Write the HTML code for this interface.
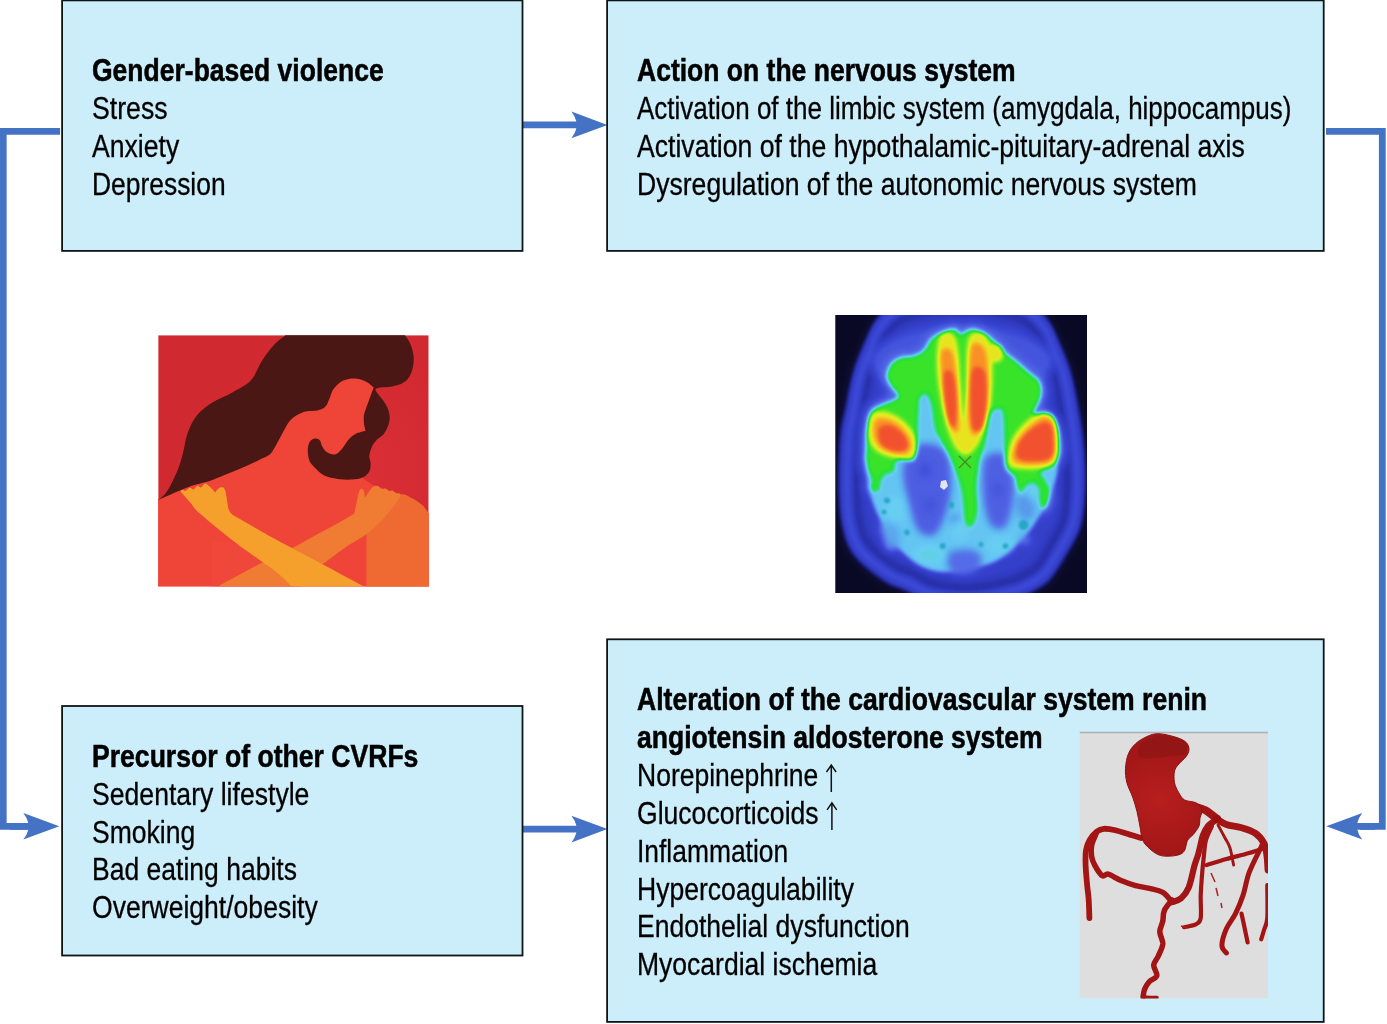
<!DOCTYPE html>
<html><head><meta charset="utf-8"><style>
html,body{margin:0;padding:0;background:#fff;width:1387px;height:1024px;overflow:hidden}
svg{display:block}
text{font-family:"Liberation Sans",sans-serif;font-size:32px;fill:#000}
</style></head><body>
<svg width="1387" height="1024" viewBox="0 0 1387 1024">
<defs>
<clipPath id="wclip"><rect x="158.2" y="335.2" width="270.5" height="251.2"/></clipPath>
<radialGradient id="wbg" cx="340" cy="470" r="190" gradientUnits="userSpaceOnUse"><stop offset="0" stop-color="#dc3137"/><stop offset="0.5" stop-color="#d42a32"/><stop offset="1" stop-color="#d02930"/></radialGradient>
<clipPath id="bclip"><rect x="835.3" y="315" width="251.7" height="278"/></clipPath>
<filter id="jet" filterUnits="userSpaceOnUse" x="820" y="300" width="285" height="310" color-interpolation-filters="sRGB"><feGaussianBlur stdDeviation="2.3"/><feComponentTransfer><feFuncR type="table" tableValues="0.039 0.044 0.048 0.052 0.065 0.092 0.118 0.153 0.188 0.200 0.213 0.225 0.255 0.289 0.324 0.340 0.345 0.350 0.362 0.385 0.408 0.326 0.244 0.194 0.165 0.169 0.309 0.449 0.588 0.722 0.856 0.923 0.945 0.967 0.977 0.970 0.963 0.956 0.951 0.946 0.941"/><feFuncG type="table" tableValues="0.039 0.044 0.048 0.052 0.069 0.105 0.141 0.184 0.227 0.245 0.262 0.279 0.316 0.357 0.399 0.463 0.541 0.620 0.690 0.749 0.808 0.834 0.860 0.875 0.881 0.889 0.901 0.913 0.925 0.932 0.939 0.882 0.784 0.686 0.596 0.518 0.439 0.371 0.341 0.312 0.282"/><feFuncB type="table" tableValues="0.149 0.164 0.180 0.195 0.261 0.405 0.549 0.651 0.753 0.780 0.807 0.834 0.857 0.879 0.901 0.914 0.922 0.929 0.937 0.947 0.957 0.754 0.552 0.396 0.272 0.171 0.161 0.151 0.141 0.131 0.122 0.122 0.129 0.137 0.145 0.155 0.165 0.174 0.178 0.183 0.188"/></feComponentTransfer></filter>
<filter id="tb" x="-50%" y="-50%" width="200%" height="200%"><feGaussianBlur stdDeviation="1.2"/></filter>
<filter id="fb3" filterUnits="userSpaceOnUse" x="820" y="300" width="285" height="310"><feGaussianBlur stdDeviation="3"/></filter>
<clipPath id="hclip"><rect x="1079.5" y="731.5" width="188.5" height="267"/></clipPath>
<filter id="hbl" x="-10%" y="-10%" width="120%" height="120%"><feGaussianBlur stdDeviation="0.6"/></filter>
<radialGradient id="aog" cx="1160" cy="800" r="60" gradientUnits="userSpaceOnUse"><stop offset="0" stop-color="#b81e1e"/><stop offset="1" stop-color="#a01616"/></radialGradient>
</defs>
<rect x="0" y="0" width="1387" height="1024" fill="#fff"/>
<path d="M60,131.3 L3.3,131.3 L3.3,826.4 L30,826.4" fill="none" stroke="#4472c4" stroke-width="6.7"/>
<path d="M1326,131.3 L1382.3,131.3 L1382.3,826.4 L1360,826.4" fill="none" stroke="#4472c4" stroke-width="6.8"/>
<path d="M10,822.9499999999999 L28.299999999999997,822.9499999999999 Q27.099999999999994,817.8 23.299999999999997,813.0 L59.3,826.3 L23.299999999999997,839.5999999999999 Q27.099999999999994,834.8 28.299999999999997,829.65 L10,829.65 Z" fill="#4472c4"/>
<path d="M1375,822.9499999999999 L1357.3,822.9499999999999 Q1358.5,817.8 1362.3,813.0 L1326.3,826.3 L1362.3,839.5999999999999 Q1358.5,834.8 1357.3,829.65 L1375,829.65 Z" fill="#4472c4"/>
<path d="M522,121.55000000000001 L576.4,121.55000000000001 Q575.1999999999999,116.4 571.4,111.60000000000001 L607.4,124.9 L571.4,138.20000000000002 Q575.1999999999999,133.4 576.4,128.25 L522,128.25 Z" fill="#4472c4"/>
<path d="M522,825.75 L576.4,825.75 Q575.1999999999999,820.6 571.4,815.8000000000001 L607.4,829.1 L571.4,842.4 Q575.1999999999999,837.6 576.4,832.45 L522,832.45 Z" fill="#4472c4"/>
<rect x="62.1" y="0.4" width="460.4" height="250.5" fill="#cbeefa" stroke="#0f1416" stroke-width="1.8"/>
<rect x="607.1" y="0.4" width="716.6" height="250.5" fill="#cbeefa" stroke="#0f1416" stroke-width="1.8"/>
<rect x="62.1" y="706" width="460.4" height="249.5" fill="#cbeefa" stroke="#0f1416" stroke-width="1.8"/>
<rect x="607.1" y="639.3" width="716.6" height="382.6" fill="#cbeefa" stroke="#0f1416" stroke-width="1.8"/>
<g opacity="0.995">
<text x="92" y="81.1" font-weight="bold" stroke="#000" stroke-width="0.55" textLength="291.7" lengthAdjust="spacingAndGlyphs">Gender-based violence</text>
<text x="92" y="118.9" font-weight="normal" stroke="#000" stroke-width="0.3" textLength="75.6" lengthAdjust="spacingAndGlyphs">Stress</text>
<text x="92" y="156.7" font-weight="normal" stroke="#000" stroke-width="0.3" textLength="87.2" lengthAdjust="spacingAndGlyphs">Anxiety</text>
<text x="92" y="194.5" font-weight="normal" stroke="#000" stroke-width="0.3" textLength="133.6" lengthAdjust="spacingAndGlyphs">Depression</text>
<text x="637" y="81.1" font-weight="bold" stroke="#000" stroke-width="0.55" textLength="378.6" lengthAdjust="spacingAndGlyphs">Action on the nervous system</text>
<text x="637" y="118.9" font-weight="normal" stroke="#000" stroke-width="0.3" textLength="654.4" lengthAdjust="spacingAndGlyphs">Activation of the limbic system (amygdala, hippocampus)</text>
<text x="637" y="156.7" font-weight="normal" stroke="#000" stroke-width="0.3" textLength="607.8" lengthAdjust="spacingAndGlyphs">Activation of the hypothalamic-pituitary-adrenal axis</text>
<text x="637" y="194.5" font-weight="normal" stroke="#000" stroke-width="0.3" textLength="559.8" lengthAdjust="spacingAndGlyphs">Dysregulation of the autonomic nervous system</text>
<text x="92" y="767.0" font-weight="bold" stroke="#000" stroke-width="0.55" textLength="326.4" lengthAdjust="spacingAndGlyphs">Precursor of other CVRFs</text>
<text x="92" y="804.8" font-weight="normal" stroke="#000" stroke-width="0.3" textLength="217.4" lengthAdjust="spacingAndGlyphs">Sedentary lifestyle</text>
<text x="92" y="842.6" font-weight="normal" stroke="#000" stroke-width="0.3" textLength="103.2" lengthAdjust="spacingAndGlyphs">Smoking</text>
<text x="92" y="880.4" font-weight="normal" stroke="#000" stroke-width="0.3" textLength="204.9" lengthAdjust="spacingAndGlyphs">Bad eating habits</text>
<text x="92" y="918.2" font-weight="normal" stroke="#000" stroke-width="0.3" textLength="225.7" lengthAdjust="spacingAndGlyphs">Overweight/obesity</text>
<text x="637" y="710.3" font-weight="bold" stroke="#000" stroke-width="0.55" textLength="570.1" lengthAdjust="spacingAndGlyphs">Alteration of the cardiovascular system renin</text>
<text x="637" y="748.14" font-weight="bold" stroke="#000" stroke-width="0.55" textLength="405.5" lengthAdjust="spacingAndGlyphs">angiotensin aldosterone system</text>
<text x="637" y="785.98" font-weight="normal" stroke="#000" stroke-width="0.3" textLength="181.3" lengthAdjust="spacingAndGlyphs">Norepinephrine</text>
<text x="637" y="823.82" font-weight="normal" stroke="#000" stroke-width="0.3" textLength="181.6" lengthAdjust="spacingAndGlyphs">Glucocorticoids</text>
<text x="637" y="861.66" font-weight="normal" stroke="#000" stroke-width="0.3" textLength="151.2" lengthAdjust="spacingAndGlyphs">Inflammation</text>
<text x="637" y="899.5" font-weight="normal" stroke="#000" stroke-width="0.3" textLength="217.0" lengthAdjust="spacingAndGlyphs">Hypercoagulability</text>
<text x="637" y="937.34" font-weight="normal" stroke="#000" stroke-width="0.3" textLength="272.8" lengthAdjust="spacingAndGlyphs">Endothelial dysfunction</text>
<text x="637" y="975.18" font-weight="normal" stroke="#000" stroke-width="0.3" textLength="240.2" lengthAdjust="spacingAndGlyphs">Myocardial ischemia</text>
<path d="M831.3,792 L831.3,765.8 M826.5,772 L831.3,765 L836.0999999999999,772" fill="none" stroke="#111" stroke-width="1.5"/>
<path d="M831.9,830 L831.9,803.5999999999999 M827.1,809.8 L831.9,802.8 L836.6999999999999,809.8" fill="none" stroke="#111" stroke-width="1.5"/>
</g>
<g clip-path="url(#wclip)">
<rect x="158.2" y="335.2" width="270.5" height="251.2" fill="url(#wbg)"/>
<path d="M150.0,503.0 L166.0,496.0 L230.0,450.0 L300.0,400.0 L340.0,368.0 L372.0,376.0 L376.0,386.0 L366.0,420.0 L364.0,455.0 L363.0,478.5 L372.0,484.4 L385.7,489.2 L399.0,494.6 L413.0,498.7 L422.6,505.6 L430.0,515.0 L432.0,590.0 L150.0,590.0 Z" fill="#ef4538"/>
<path d="M212.0,540.0 L240.0,545.0 L300.0,560.0 L300.0,590.0 L212.0,590.0 Z" fill="#ef4a3a" opacity="0.6"/>
<path d="M366.5,590.0 C366.5,580.7 366.5,543.6 366.5,534.3 C370.6,530.2 386.9,513.8 391.0,509.7 C392.6,507.2 397.0,496.4 400.7,494.6 C404.4,492.8 409.4,496.9 413.0,498.7 C416.6,500.5 419.9,503.1 422.6,505.6 C425.3,508.2 427.9,512.6 429.0,514.0 C429.5,526.7 431.5,577.3 432.0,590.0 C421.1,590.0 377.4,590.0 366.5,590.0 Z" fill="#ef6a33"/>
<path d="M377.5,485.8 C378.9,486.1 380.2,488.6 381.6,489.0 C383.0,489.4 384.5,488.2 385.7,488.5 C386.9,488.8 387.9,490.7 389.0,491.0 C390.1,491.3 391.3,490.2 392.5,490.5 C393.7,490.8 394.9,492.5 396.0,493.0 C397.1,493.5 398.5,492.9 399.3,493.3 C400.1,493.7 400.7,495.1 401.0,495.5 C399.4,497.9 394.8,505.1 391.1,509.7 C387.4,514.3 382.9,519.2 378.8,523.3 C374.7,527.4 372.2,530.2 366.5,534.3 C360.8,538.4 351.8,543.1 344.7,547.9 C337.6,552.7 327.6,560.5 324.2,563.0 C318.8,566.8 296.9,582.2 291.5,586.0 C279.4,586.0 231.1,586.0 219.0,586.0 C225.7,582.4 252.2,567.9 258.9,564.3 C264.1,561.8 280.3,554.3 290.0,549.3 C299.7,544.3 309.3,538.6 317.3,534.3 C325.3,530.0 331.7,526.7 337.8,523.3 C343.9,519.9 351.5,515.4 354.2,513.8 C354.6,512.0 355.7,506.6 356.5,503.0 C357.3,499.4 358.2,494.4 359.0,492.0 C359.8,489.6 360.7,489.0 361.5,488.8 C362.3,488.6 363.2,489.6 363.8,491.0 C364.4,492.4 364.8,496.4 365.0,497.5 C365.7,496.5 367.7,493.2 369.0,491.5 C370.3,489.8 371.6,487.9 373.0,487.0 C374.4,486.1 376.1,485.5 377.5,485.8 Z" fill="#f07b32"/>
<path d="M180.5,491.5 C180.8,491.2 181.5,489.6 182.3,489.5 C183.1,489.4 184.2,491.3 185.5,491.0 C186.8,490.7 188.6,488.1 189.9,487.8 C191.2,487.6 192.2,489.8 193.5,489.5 C194.8,489.2 196.2,486.1 197.4,485.8 C198.7,485.5 199.8,487.9 201.0,487.5 C202.2,487.1 203.6,483.8 204.9,483.5 C206.2,483.2 207.7,484.9 209.0,486.0 C210.3,487.1 211.9,488.9 213.0,490.0 C214.1,491.1 214.9,492.2 215.3,492.6 C215.8,491.9 217.3,489.4 218.5,488.5 C219.7,487.6 221.5,487.1 222.6,487.3 C223.7,487.6 224.3,488.4 225.0,490.0 C225.7,491.6 225.9,493.7 226.5,497.0 C227.1,500.3 227.7,506.7 228.8,509.7 C229.9,512.7 232.2,514.2 232.9,515.1 C239.3,518.8 264.8,533.4 271.2,537.0 C286.7,545.2 348.5,578.2 364.0,586.5 C351.9,586.5 303.8,586.5 291.7,586.5 C289.0,584.0 284.4,578.3 275.3,571.2 C266.2,564.1 249.5,553.4 237.0,543.8 C224.5,534.2 207.8,520.6 200.1,513.8 C192.3,507.0 193.8,506.5 190.5,502.8 C187.2,499.1 182.2,493.4 180.5,491.5 Z" fill="#f5a02c"/>
<path d="M288.3,333.0 C285.9,335.0 278.3,340.3 273.9,345.0 C269.4,349.7 265.5,355.5 261.6,361.4 C257.7,367.3 255.7,375.4 250.7,380.6 C245.7,385.9 237.9,389.3 231.5,392.9 C225.1,396.5 218.1,398.8 212.4,402.4 C206.7,406.0 201.5,409.7 197.4,414.7 C193.3,419.7 190.2,426.1 187.8,432.5 C185.4,438.9 184.6,447.0 183.0,453.0 C181.4,459.0 180.4,463.1 178.2,468.7 C176.0,474.3 172.5,481.8 170.0,486.4 C167.5,490.9 165.5,493.6 163.2,496.0 C160.9,498.4 157.2,500.2 156.0,501.0 C157.7,500.2 161.5,498.4 165.9,496.5 C170.3,494.6 177.3,491.5 182.3,489.5 C187.3,487.5 191.4,486.0 196.0,484.6 C200.6,483.2 205.1,482.5 209.7,481.0 C214.2,479.5 218.8,477.3 223.3,475.5 C227.9,473.7 232.4,471.9 237.0,470.0 C241.6,468.1 246.5,465.9 250.7,464.0 C254.9,462.1 258.6,460.3 262.0,458.5 C265.4,456.7 268.1,456.6 271.2,453.0 C274.3,449.4 277.5,442.1 280.7,436.6 C283.9,431.1 286.5,424.3 290.3,420.2 C294.1,416.1 299.2,413.6 303.7,412.0 C308.2,410.4 313.7,411.5 317.3,410.6 C320.9,409.7 323.4,408.6 325.5,406.5 C327.6,404.4 328.2,401.2 329.6,398.3 C331.0,395.4 331.4,391.8 333.7,388.8 C336.0,385.9 339.6,382.3 343.3,380.6 C347.0,378.9 351.7,378.3 355.6,378.5 C359.5,378.7 363.5,380.5 366.5,382.0 C369.5,383.5 372.5,386.6 373.7,387.5 C372.2,391.6 366.4,407.0 364.8,412.1 C363.2,417.2 363.9,416.2 363.8,418.3 C363.7,420.4 363.8,422.3 364.1,424.4 C364.4,426.5 365.3,429.7 365.5,430.8 C363.9,431.3 358.4,432.5 355.6,433.9 C352.8,435.3 351.1,436.8 348.8,439.3 C346.5,441.8 344.2,446.4 341.9,448.9 C339.6,451.4 337.6,453.8 335.1,454.4 C332.6,455.0 329.1,453.7 326.9,452.3 C324.7,450.9 323.2,448.1 322.1,446.2 C321.0,444.3 321.1,442.0 320.1,440.7 C319.1,439.4 317.6,438.5 316.0,438.5 C314.4,438.5 311.9,439.0 310.5,440.7 C309.1,442.4 308.0,445.7 307.8,448.9 C307.6,452.1 308.2,456.9 309.1,459.8 C310.0,462.7 310.7,463.4 313.2,466.0 C315.7,468.6 320.1,473.4 324.2,475.5 C328.3,477.6 333.2,478.2 337.8,478.9 C342.4,479.6 347.4,479.8 351.5,479.6 C355.6,479.4 359.4,479.0 362.4,477.6 C365.4,476.2 367.9,473.8 369.3,471.4 C370.7,469.0 370.6,465.8 370.6,463.2 C370.6,460.6 369.0,458.6 369.3,455.7 C369.6,452.8 371.0,448.7 372.3,446.0 C373.6,443.3 375.3,441.4 377.1,439.5 C378.9,437.6 381.5,436.6 383.2,434.7 C384.9,432.8 386.3,430.1 387.3,427.8 C388.3,425.5 389.0,423.3 389.4,421.0 C389.8,418.7 389.8,416.5 389.4,414.2 C389.0,411.9 388.3,409.6 387.3,407.3 C386.3,405.0 384.8,402.8 383.2,400.5 C381.6,398.2 379.1,395.5 377.8,393.7 C376.5,391.9 375.1,390.5 375.5,389.5 C375.9,388.5 377.9,387.9 380.5,387.5 C383.1,387.1 387.4,387.4 390.8,386.8 C394.2,386.2 399.3,384.6 401.0,384.1 C402.1,383.2 405.9,381.4 407.8,379.0 C409.7,376.6 411.3,373.2 412.3,369.6 C413.3,366.0 414.0,361.6 413.7,357.3 C413.4,353.0 412.0,347.8 410.3,343.7 C408.6,339.6 404.5,334.8 403.4,333.0 C384.2,333.0 307.5,333.0 288.3,333.0 Z" fill="#4a1714"/>
</g>
<g clip-path="url(#bclip)">
<g filter="url(#jet)">
<rect x="820" y="300" width="285" height="310" fill="rgb(0,0,0)"/>
<path d="M1048.0,316.7 C1054.4,324.3 1057.6,334.4 1061.7,343.5 C1065.8,352.6 1069.4,360.7 1072.4,371.3 C1075.5,381.8 1078.2,397.0 1080.2,406.8 C1082.1,416.7 1082.9,421.6 1084.1,430.5 C1085.2,439.3 1086.5,449.5 1087.0,460.0 C1087.5,470.5 1087.9,482.1 1087.1,493.5 C1086.3,504.8 1085.4,517.8 1082.3,528.0 C1079.2,538.2 1073.6,545.9 1068.5,554.7 C1063.4,563.4 1056.7,574.5 1051.8,580.4 C1046.9,586.3 1044.7,587.0 1039.0,590.3 C1033.2,593.6 1028.0,597.2 1017.3,600.1 C1006.6,603.1 989.3,607.4 974.8,608.0 C960.4,608.7 942.1,606.7 930.4,604.0 C918.8,601.4 912.5,595.6 904.8,592.2 C897.1,588.7 892.8,589.2 884.1,583.3 C875.4,577.4 859.7,565.9 852.5,556.7 C845.3,547.5 843.3,538.6 840.7,528.0 C838.1,517.5 837.6,504.8 836.9,493.5 C836.3,482.1 836.7,470.5 837.0,460.0 C837.3,449.5 837.8,439.3 838.9,430.5 C840.1,421.6 841.7,416.7 843.8,406.8 C845.9,397.0 848.5,381.8 851.6,371.3 C854.6,360.7 858.2,352.6 862.3,343.5 C866.4,334.4 869.6,324.3 876.0,316.7 C882.4,309.1 886.4,302.7 900.7,297.9 C915.0,293.1 941.6,288.0 962.0,288.0 C982.4,288.0 1009.0,293.1 1023.3,297.9 C1037.6,302.7 1041.6,309.1 1048.0,316.7 Z" fill="rgb(51,51,51)" filter="url(#fb3)"/>
<path d="M1042.3,326.1 C1048.2,333.4 1051.0,343.2 1054.5,351.9 C1058.1,360.5 1061.3,368.2 1063.9,378.1 C1066.5,388.1 1068.6,402.2 1070.1,411.3 C1071.7,420.5 1072.4,424.9 1073.4,433.1 C1074.3,441.2 1075.5,450.4 1076.0,460.0 C1076.5,469.6 1077.0,480.2 1076.4,490.6 C1075.9,501.1 1075.4,513.1 1072.7,522.6 C1070.0,532.1 1064.9,539.2 1060.3,547.4 C1055.7,555.5 1049.7,566.0 1045.2,571.6 C1040.7,577.2 1038.7,577.8 1033.4,580.8 C1028.1,583.9 1023.1,587.2 1013.2,589.9 C1003.3,592.6 987.3,596.5 973.9,597.0 C960.5,597.6 943.6,595.8 932.8,593.3 C922.0,590.8 916.3,585.3 909.2,582.1 C902.0,578.9 898.0,579.5 889.9,574.0 C881.9,568.6 867.3,558.0 860.7,549.4 C854.1,540.8 852.5,532.4 850.3,522.6 C848.1,512.8 847.9,501.1 847.6,490.6 C847.2,480.2 847.7,469.6 848.0,460.0 C848.3,450.4 848.7,441.1 849.6,433.0 C850.6,424.9 852.1,420.5 853.9,411.3 C855.6,402.2 857.5,388.1 860.1,378.1 C862.7,368.2 865.9,360.5 869.5,351.9 C873.0,343.2 875.8,333.4 881.7,326.1 C887.5,318.9 891.2,312.7 904.6,308.2 C918.0,303.6 942.9,299.0 962.0,299.0 C981.1,299.0 1006.0,303.6 1019.4,308.2 C1032.8,312.7 1036.5,318.9 1042.3,326.1 Z" fill="none" stroke="rgb(84,84,84)" stroke-width="7" filter="url(#fb3)"/>
<path d="M1040.3,329.6 C1045.9,336.7 1048.5,346.4 1051.9,354.9 C1055.4,363.4 1058.3,371.0 1060.7,380.6 C1063.2,390.3 1065.0,404.1 1066.5,413.0 C1068.0,421.9 1068.6,426.2 1069.5,434.0 C1070.4,441.8 1071.5,450.7 1072.0,460.0 C1072.5,469.3 1073.0,479.5 1072.6,489.6 C1072.1,499.7 1071.8,511.4 1069.2,520.6 C1066.7,529.8 1061.7,536.7 1057.3,544.7 C1052.9,552.7 1047.2,562.9 1042.8,568.4 C1038.5,573.8 1036.5,574.4 1031.4,577.4 C1026.2,580.3 1021.4,583.6 1011.8,586.2 C1002.1,588.8 986.6,592.5 973.5,593.1 C960.5,593.6 944.1,591.8 933.6,589.4 C923.2,587.0 917.7,581.5 910.8,578.4 C903.8,575.3 899.9,575.9 892.1,570.6 C884.2,565.4 870.1,555.1 863.7,546.7 C857.4,538.4 855.9,530.2 853.8,520.7 C851.8,511.2 851.7,499.7 851.4,489.6 C851.1,479.5 851.6,469.3 852.0,460.0 C852.4,450.7 852.6,441.8 853.5,434.0 C854.4,426.1 855.9,421.9 857.5,413.0 C859.1,404.1 860.8,390.3 863.3,380.6 C865.7,371.0 868.6,363.4 872.1,354.9 C875.5,346.4 878.1,336.7 883.7,329.6 C889.4,322.4 893.0,316.3 906.0,311.9 C919.1,307.5 943.3,303.0 962.0,303.0 C980.7,303.0 1004.9,307.5 1018.0,311.9 C1031.0,316.3 1034.6,322.4 1040.3,329.6 Z" fill="rgb(46,46,46)"/>
<path d="M1033.6,340.7 C1038.6,347.5 1040.7,356.8 1043.5,364.8 C1046.3,372.8 1048.8,379.9 1050.6,388.8 C1052.5,397.7 1053.6,410.3 1054.6,418.3 C1055.7,426.4 1056.1,430.1 1056.8,437.1 C1057.6,444.0 1058.5,451.8 1059.0,460.0 C1059.5,468.2 1060.2,477.2 1060.0,486.2 C1059.8,495.3 1060.0,505.9 1057.9,514.2 C1055.8,522.5 1051.4,528.8 1047.6,536.1 C1043.8,543.4 1038.9,552.9 1035.1,558.0 C1031.3,563.0 1029.4,563.5 1024.7,566.2 C1020.1,568.9 1015.7,571.8 1007.0,574.1 C998.3,576.4 984.2,579.7 972.4,580.1 C960.6,580.5 945.8,579.0 936.4,576.7 C927.0,574.4 922.1,569.3 915.9,566.5 C909.7,563.6 906.1,564.4 899.0,559.6 C892.0,554.9 879.1,545.7 873.5,538.1 C867.8,530.6 866.7,523.0 865.2,514.3 C863.6,505.7 864.0,495.3 864.0,486.2 C864.0,477.2 864.6,468.2 865.0,460.0 C865.4,451.8 865.4,443.9 866.2,437.0 C866.9,430.1 868.2,426.3 869.4,418.3 C870.6,410.3 871.5,397.7 873.4,388.8 C875.2,379.9 877.7,372.8 880.5,364.8 C883.3,356.8 885.4,347.5 890.4,340.7 C895.5,333.9 898.7,328.2 910.6,324.1 C922.5,319.9 944.9,316.0 962.0,316.0 C979.1,316.0 1001.5,319.9 1013.4,324.1 C1025.3,328.2 1028.5,333.9 1033.6,340.7 Z" fill="rgb(61,61,61)" filter="url(#fb3)"/>
<ellipse cx="962" cy="362" rx="92" ry="36" fill="rgb(79,79,79)" filter="url(#fb3)"/>
<path d="M886.6,376.5 C886.6,372.9 888.4,367.4 890.7,364.2 C893.0,361.0 896.6,358.8 900.2,357.4 C903.8,356.0 908.6,357.1 912.5,356.0 C916.4,354.9 920.3,353.5 923.5,350.5 C926.7,347.5 928.1,341.4 931.7,338.2 C935.3,334.9 941.1,332.5 945.0,331.0 C948.9,329.5 952.3,328.5 955.0,329.0 C957.7,329.5 958.8,333.8 961.0,334.0 C963.2,334.2 965.5,330.8 968.0,330.0 C970.5,329.2 972.6,328.6 976.0,329.5 C979.4,330.4 984.4,332.7 988.3,335.5 C992.2,338.3 996.3,343.4 999.3,346.4 C1002.3,349.4 1002.9,350.6 1006.1,353.3 C1009.3,356.0 1014.5,359.6 1018.4,362.8 C1022.3,366.0 1025.9,369.4 1029.3,372.4 C1032.7,375.4 1036.9,377.4 1038.9,380.6 C1041.0,383.8 1041.6,387.9 1041.6,391.5 C1041.6,395.1 1040.2,398.9 1038.9,402.5 C1037.6,406.1 1033.3,410.9 1034.0,413.0 C1034.7,415.1 1040.1,413.6 1043.0,414.8 C1045.9,416.0 1048.9,417.5 1051.2,420.2 C1053.5,422.9 1055.3,427.1 1056.7,431.2 C1058.1,435.3 1059.2,440.3 1059.4,444.8 C1059.6,449.3 1059.6,454.3 1058.0,458.0 C1056.4,461.7 1053.0,464.7 1050.0,467.0 C1047.0,469.3 1041.0,469.8 1040.0,472.0 C1039.0,474.2 1042.5,477.0 1044.0,480.0 C1045.5,483.0 1048.3,486.2 1049.0,490.0 C1049.7,493.8 1049.0,499.8 1048.0,503.0 C1047.0,506.2 1044.3,509.5 1043.0,509.0 C1041.7,508.5 1040.5,503.5 1040.0,500.0 C1039.5,496.5 1041.3,491.0 1040.0,488.0 C1038.7,485.0 1034.5,482.3 1032.0,482.0 C1029.5,481.7 1026.8,484.2 1025.0,486.0 C1023.2,487.8 1022.3,493.0 1021.0,493.0 C1019.7,493.0 1018.0,488.7 1017.0,486.0 C1016.0,483.3 1016.7,479.7 1015.0,477.0 C1013.3,474.3 1008.7,472.8 1007.0,470.0 C1005.3,467.2 1005.0,465.0 1004.7,460.0 C1004.4,455.0 1005.3,448.0 1005.0,440.0 C1004.7,432.0 1004.5,417.2 1003.0,412.0 C1001.5,406.8 998.2,408.7 996.0,409.0 C993.8,409.3 991.5,410.5 990.0,414.0 C988.5,417.5 988.0,424.7 987.0,430.0 C986.0,435.3 985.2,441.3 984.0,446.0 C982.8,450.7 981.0,454.0 980.0,458.0 C979.0,462.0 978.7,465.2 978.0,470.0 C977.3,474.8 976.2,481.2 976.0,487.0 C975.8,492.8 977.0,500.3 977.0,505.0 C977.0,509.7 976.7,511.8 976.0,515.0 C975.3,518.2 974.3,522.2 973.0,524.0 C971.7,525.8 969.3,527.0 968.0,526.0 C966.7,525.0 965.7,521.5 965.0,518.0 C964.3,514.5 964.5,509.7 964.0,505.0 C963.5,500.3 963.3,495.5 962.0,490.0 C960.7,484.5 958.0,477.3 956.0,472.0 C954.0,466.7 952.0,462.3 950.0,458.0 C948.0,453.7 946.3,450.7 944.0,446.0 C941.7,441.3 938.0,436.8 936.0,430.0 C934.0,423.2 933.5,410.8 932.0,405.0 C930.5,399.2 928.8,396.3 927.0,395.0 C925.2,393.7 922.5,394.4 921.0,397.0 C919.5,399.6 918.7,403.5 918.0,410.7 C917.3,417.9 917.3,432.6 917.0,440.0 C916.7,447.4 916.8,451.5 916.0,455.0 C915.2,458.5 914.5,460.3 912.0,461.0 C909.5,461.7 903.8,458.8 901.0,459.0 C898.2,459.2 896.3,460.0 895.0,462.0 C893.7,464.0 894.7,469.0 893.0,471.0 C891.3,473.0 887.2,472.3 885.0,474.0 C882.8,475.7 881.0,478.5 880.0,481.0 C879.0,483.5 880.0,487.3 879.0,489.0 C878.0,490.7 875.5,491.6 874.0,491.3 C872.5,491.0 870.2,488.7 870.0,487.0 C869.8,485.3 873.2,483.5 873.0,481.0 C872.8,478.5 870.2,475.2 869.0,472.0 C867.8,468.8 866.5,467.7 866.0,462.0 C865.5,456.3 865.9,444.3 866.1,438.0 C866.3,431.7 866.5,428.9 867.4,424.3 C868.3,419.8 868.8,414.1 871.5,410.7 C874.2,407.3 879.4,406.1 883.8,403.8 C888.2,401.5 896.9,399.9 898.0,397.0 C899.1,394.1 892.6,389.5 890.7,386.1 C888.8,382.7 886.6,380.1 886.6,376.5 Z" fill="none" stroke="rgb(92,92,92)" stroke-width="12" filter="url(#fb3)"/>
<path d="M868.0,452.0 C873.7,448.5 884.7,447.0 900.0,445.0 C915.3,443.0 940.0,440.0 960.0,440.0 C980.0,440.0 1004.7,443.0 1020.0,445.0 C1035.3,447.0 1045.7,447.8 1052.0,452.0 C1058.3,456.2 1058.2,463.0 1058.0,470.0 C1057.8,477.0 1053.5,487.3 1051.0,494.0 C1048.5,500.7 1046.0,504.5 1043.0,510.0 C1040.0,515.5 1037.5,521.0 1033.0,527.0 C1028.5,533.0 1022.3,540.2 1016.0,546.0 C1009.7,551.8 1004.0,557.8 995.0,562.0 C986.0,566.2 971.5,569.3 962.0,571.0 C952.5,572.7 945.3,573.0 938.0,572.0 C930.7,571.0 924.2,568.5 918.0,565.0 C911.8,561.5 906.0,556.0 901.0,551.0 C896.0,546.0 892.0,541.2 888.0,535.0 C884.0,528.8 880.0,520.8 877.0,514.0 C874.0,507.2 871.8,502.0 870.0,494.0 C868.2,486.0 866.3,473.0 866.0,466.0 C865.7,459.0 862.3,455.5 868.0,452.0 Z" fill="rgb(124,124,124)"/>
<path d="M915.0,458.0 L917.0,410.0 L923.0,396.0 L929.0,395.0 L933.0,405.0 L937.0,430.0 L943.0,458.0 Z" fill="rgb(124,124,124)"/>
<path d="M983.0,458.0 L986.0,430.0 L990.0,413.0 L996.0,408.0 L1003.0,411.0 L1006.0,440.0 L1006.0,458.0 Z" fill="rgb(124,124,124)"/>
<path d="M912.0,448.0 C916.8,443.7 926.0,442.7 932.0,444.0 C938.0,445.3 944.8,448.3 948.0,456.0 C951.2,463.7 951.7,479.7 951.0,490.0 C950.3,500.3 946.8,510.5 944.0,518.0 C941.2,525.5 938.3,533.0 934.0,535.0 C929.7,537.0 922.3,535.8 918.0,530.0 C913.7,524.2 910.5,510.0 908.0,500.0 C905.5,490.0 902.3,478.7 903.0,470.0 C903.7,461.3 907.2,452.3 912.0,448.0 Z" fill="rgb(85,85,85)" filter="url(#fb3)"/>
<path d="M985.0,458.0 C988.8,451.3 1001.2,451.3 1006.0,455.0 C1010.8,458.7 1013.0,471.2 1014.0,480.0 C1015.0,488.8 1013.7,500.0 1012.0,508.0 C1010.3,516.0 1007.7,525.3 1004.0,528.0 C1000.3,530.7 993.5,529.5 990.0,524.0 C986.5,518.5 983.8,506.0 983.0,495.0 C982.2,484.0 981.2,464.7 985.0,458.0 Z" fill="rgb(87,87,87)" filter="url(#fb3)"/>
<path d="M948.0,553.0 C951.7,549.2 968.3,548.5 974.0,550.0 C979.7,551.5 982.3,558.0 982.0,562.0 C981.7,566.0 977.0,572.2 972.0,574.0 C967.0,575.8 956.0,576.5 952.0,573.0 C948.0,569.5 944.3,556.8 948.0,553.0 Z" fill="rgb(92,92,92)" filter="url(#fb3)"/>
<path d="M1015.0,500.0 C1016.3,495.8 1026.7,492.5 1030.0,495.0 C1033.3,497.5 1036.3,510.8 1035.0,515.0 C1033.7,519.2 1025.3,522.5 1022.0,520.0 C1018.7,517.5 1013.7,504.2 1015.0,500.0 Z" fill="rgb(107,107,107)" filter="url(#fb3)"/>
<path d="M880.0,525.0 C881.2,520.3 891.7,516.7 895.0,520.0 C898.3,523.3 901.2,540.3 900.0,545.0 C898.8,549.7 891.3,551.3 888.0,548.0 C884.7,544.7 878.8,529.7 880.0,525.0 Z" fill="rgb(112,112,112)" filter="url(#fb3)"/>
<ellipse cx="925" cy="470" rx="6" ry="8" fill="rgb(76,76,76)" filter="url(#fb3)"/>
<ellipse cx="930" cy="505" rx="6" ry="9" fill="rgb(79,79,79)" filter="url(#fb3)"/>
<ellipse cx="998" cy="490" rx="5" ry="8" fill="rgb(79,79,79)" filter="url(#fb3)"/>
<ellipse cx="955" cy="520" rx="5" ry="6" fill="rgb(102,102,102)" filter="url(#fb3)"/>
<ellipse cx="1025" cy="540" rx="6" ry="5" fill="rgb(102,102,102)" filter="url(#fb3)"/>
<ellipse cx="890" cy="545" rx="5" ry="5" fill="rgb(107,107,107)" filter="url(#fb3)"/>
<ellipse cx="895" cy="510" rx="10" ry="14" fill="rgb(128,128,128)" filter="url(#fb3)"/>
<ellipse cx="930" cy="555" rx="16" ry="10" fill="rgb(129,129,129)" filter="url(#fb3)"/>
<ellipse cx="1000" cy="545" rx="14" ry="9" fill="rgb(128,128,128)" filter="url(#fb3)"/>
<ellipse cx="1035" cy="490" rx="7" ry="10" fill="rgb(128,128,128)" filter="url(#fb3)"/>
<ellipse cx="960" cy="530" rx="8" ry="10" fill="rgb(128,128,128)" filter="url(#fb3)"/>
<path d="M886.6,376.5 C886.6,372.9 888.4,367.4 890.7,364.2 C893.0,361.0 896.6,358.8 900.2,357.4 C903.8,356.0 908.6,357.1 912.5,356.0 C916.4,354.9 920.3,353.5 923.5,350.5 C926.7,347.5 928.1,341.4 931.7,338.2 C935.3,334.9 941.1,332.5 945.0,331.0 C948.9,329.5 952.3,328.5 955.0,329.0 C957.7,329.5 958.8,333.8 961.0,334.0 C963.2,334.2 965.5,330.8 968.0,330.0 C970.5,329.2 972.6,328.6 976.0,329.5 C979.4,330.4 984.4,332.7 988.3,335.5 C992.2,338.3 996.3,343.4 999.3,346.4 C1002.3,349.4 1002.9,350.6 1006.1,353.3 C1009.3,356.0 1014.5,359.6 1018.4,362.8 C1022.3,366.0 1025.9,369.4 1029.3,372.4 C1032.7,375.4 1036.9,377.4 1038.9,380.6 C1041.0,383.8 1041.6,387.9 1041.6,391.5 C1041.6,395.1 1040.2,398.9 1038.9,402.5 C1037.6,406.1 1033.3,410.9 1034.0,413.0 C1034.7,415.1 1040.1,413.6 1043.0,414.8 C1045.9,416.0 1048.9,417.5 1051.2,420.2 C1053.5,422.9 1055.3,427.1 1056.7,431.2 C1058.1,435.3 1059.2,440.3 1059.4,444.8 C1059.6,449.3 1059.6,454.3 1058.0,458.0 C1056.4,461.7 1053.0,464.7 1050.0,467.0 C1047.0,469.3 1041.0,469.8 1040.0,472.0 C1039.0,474.2 1042.5,477.0 1044.0,480.0 C1045.5,483.0 1048.3,486.2 1049.0,490.0 C1049.7,493.8 1049.0,499.8 1048.0,503.0 C1047.0,506.2 1044.3,509.5 1043.0,509.0 C1041.7,508.5 1040.5,503.5 1040.0,500.0 C1039.5,496.5 1041.3,491.0 1040.0,488.0 C1038.7,485.0 1034.5,482.3 1032.0,482.0 C1029.5,481.7 1026.8,484.2 1025.0,486.0 C1023.2,487.8 1022.3,493.0 1021.0,493.0 C1019.7,493.0 1018.0,488.7 1017.0,486.0 C1016.0,483.3 1016.7,479.7 1015.0,477.0 C1013.3,474.3 1008.7,472.8 1007.0,470.0 C1005.3,467.2 1005.0,465.0 1004.7,460.0 C1004.4,455.0 1005.3,448.0 1005.0,440.0 C1004.7,432.0 1004.5,417.2 1003.0,412.0 C1001.5,406.8 998.2,408.7 996.0,409.0 C993.8,409.3 991.5,410.5 990.0,414.0 C988.5,417.5 988.0,424.7 987.0,430.0 C986.0,435.3 985.2,441.3 984.0,446.0 C982.8,450.7 981.0,454.0 980.0,458.0 C979.0,462.0 978.7,465.2 978.0,470.0 C977.3,474.8 976.2,481.2 976.0,487.0 C975.8,492.8 977.0,500.3 977.0,505.0 C977.0,509.7 976.7,511.8 976.0,515.0 C975.3,518.2 974.3,522.2 973.0,524.0 C971.7,525.8 969.3,527.0 968.0,526.0 C966.7,525.0 965.7,521.5 965.0,518.0 C964.3,514.5 964.5,509.7 964.0,505.0 C963.5,500.3 963.3,495.5 962.0,490.0 C960.7,484.5 958.0,477.3 956.0,472.0 C954.0,466.7 952.0,462.3 950.0,458.0 C948.0,453.7 946.3,450.7 944.0,446.0 C941.7,441.3 938.0,436.8 936.0,430.0 C934.0,423.2 933.5,410.8 932.0,405.0 C930.5,399.2 928.8,396.3 927.0,395.0 C925.2,393.7 922.5,394.4 921.0,397.0 C919.5,399.6 918.7,403.5 918.0,410.7 C917.3,417.9 917.3,432.6 917.0,440.0 C916.7,447.4 916.8,451.5 916.0,455.0 C915.2,458.5 914.5,460.3 912.0,461.0 C909.5,461.7 903.8,458.8 901.0,459.0 C898.2,459.2 896.3,460.0 895.0,462.0 C893.7,464.0 894.7,469.0 893.0,471.0 C891.3,473.0 887.2,472.3 885.0,474.0 C882.8,475.7 881.0,478.5 880.0,481.0 C879.0,483.5 880.0,487.3 879.0,489.0 C878.0,490.7 875.5,491.6 874.0,491.3 C872.5,491.0 870.2,488.7 870.0,487.0 C869.8,485.3 873.2,483.5 873.0,481.0 C872.8,478.5 870.2,475.2 869.0,472.0 C867.8,468.8 866.5,467.7 866.0,462.0 C865.5,456.3 865.9,444.3 866.1,438.0 C866.3,431.7 866.5,428.9 867.4,424.3 C868.3,419.8 868.8,414.1 871.5,410.7 C874.2,407.3 879.4,406.1 883.8,403.8 C888.2,401.5 896.9,399.9 898.0,397.0 C899.1,394.1 892.6,389.5 890.7,386.1 C888.8,382.7 886.6,380.1 886.6,376.5 Z" fill="rgb(162,162,162)"/>
<path d="M940.0,336.0 C942.5,330.8 949.0,331.7 952.0,334.0 C955.0,336.3 956.5,340.7 958.0,350.0 C959.5,359.3 960.2,378.3 961.0,390.0 C961.8,401.7 962.2,419.7 963.0,420.0 C963.8,420.3 965.3,403.7 966.0,392.0 C966.7,380.3 966.0,359.7 967.0,350.0 C968.0,340.3 968.8,336.3 972.0,334.0 C975.2,331.7 982.7,331.7 986.0,336.0 C989.3,340.3 991.2,349.3 992.0,360.0 C992.8,370.7 992.3,388.3 991.0,400.0 C989.7,411.7 986.5,422.2 984.0,430.0 C981.5,437.8 979.0,442.8 976.0,447.0 C973.0,451.2 969.3,454.8 966.0,455.0 C962.7,455.2 959.0,452.2 956.0,448.0 C953.0,443.8 950.5,438.0 948.0,430.0 C945.5,422.0 942.8,410.8 941.0,400.0 C939.2,389.2 937.2,375.7 937.0,365.0 C936.8,354.3 937.5,341.2 940.0,336.0 Z" fill="rgb(196,196,196)"/>
<path d="M872.0,414.0 C875.0,411.8 881.0,411.0 886.0,412.0 C891.0,413.0 897.3,416.3 902.0,420.0 C906.7,423.7 911.5,429.0 914.0,434.0 C916.5,439.0 917.7,445.8 917.0,450.0 C916.3,454.2 913.7,457.7 910.0,459.0 C906.3,460.3 900.3,459.2 895.0,458.0 C889.7,456.8 882.3,455.0 878.0,452.0 C873.7,449.0 870.7,444.5 869.0,440.0 C867.3,435.5 867.5,429.3 868.0,425.0 C868.5,420.7 869.0,416.2 872.0,414.0 Z" fill="rgb(196,196,196)"/>
<path d="M1040.0,413.0 C1044.5,411.7 1049.0,412.5 1052.0,415.0 C1055.0,417.5 1056.8,422.5 1058.0,428.0 C1059.2,433.5 1059.3,442.3 1059.0,448.0 C1058.7,453.7 1058.3,458.7 1056.0,462.0 C1053.7,465.3 1050.2,466.8 1045.0,468.0 C1039.8,469.2 1030.8,469.3 1025.0,469.0 C1019.2,468.7 1012.8,468.3 1010.0,466.0 C1007.2,463.7 1007.5,459.7 1008.0,455.0 C1008.5,450.3 1010.2,443.3 1013.0,438.0 C1015.8,432.7 1020.5,427.2 1025.0,423.0 C1029.5,418.8 1035.5,414.3 1040.0,413.0 Z" fill="rgb(196,196,196)"/>
<path d="M988.0,346.0 C989.7,344.0 994.5,343.3 997.0,344.0 C999.5,344.7 1002.3,347.3 1003.0,350.0 C1003.7,352.7 1002.8,358.0 1001.0,360.0 C999.2,362.0 994.3,362.7 992.0,362.0 C989.7,361.3 987.7,358.7 987.0,356.0 C986.3,353.3 986.3,348.0 988.0,346.0 Z" fill="rgb(196,196,196)"/>
<path d="M942.0,350.0 C943.8,347.8 949.5,347.0 952.0,352.0 C954.5,357.0 955.8,370.3 957.0,380.0 C958.2,389.7 958.8,401.3 959.0,410.0 C959.2,418.7 959.5,429.5 958.0,432.0 C956.5,434.5 952.3,431.2 950.0,425.0 C947.7,418.8 945.5,405.0 944.0,395.0 C942.5,385.0 941.3,372.5 941.0,365.0 C940.7,357.5 940.2,352.2 942.0,350.0 Z" fill="rgb(219,219,219)"/>
<path d="M972.0,345.0 C974.5,340.5 981.3,343.8 984.0,348.0 C986.7,352.2 987.3,361.3 988.0,370.0 C988.7,378.7 988.8,390.3 988.0,400.0 C987.2,409.7 985.7,422.3 983.0,428.0 C980.3,433.7 974.5,437.0 972.0,434.0 C969.5,431.0 968.5,419.8 968.0,410.0 C967.5,400.2 968.3,385.8 969.0,375.0 C969.7,364.2 969.5,349.5 972.0,345.0 Z" fill="rgb(219,219,219)"/>
<path d="M876.0,420.0 C878.7,417.5 885.3,418.3 890.0,420.0 C894.7,421.7 900.5,426.2 904.0,430.0 C907.5,433.8 910.5,439.2 911.0,443.0 C911.5,446.8 910.0,451.3 907.0,453.0 C904.0,454.7 897.5,454.0 893.0,453.0 C888.5,452.0 883.2,450.0 880.0,447.0 C876.8,444.0 874.7,439.5 874.0,435.0 C873.3,430.5 873.3,422.5 876.0,420.0 Z" fill="rgb(219,219,219)"/>
<path d="M1042.0,418.0 C1046.2,416.7 1049.8,418.7 1052.0,421.0 C1054.2,423.3 1054.5,427.2 1055.0,432.0 C1055.5,436.8 1055.7,445.2 1055.0,450.0 C1054.3,454.8 1053.5,458.7 1051.0,461.0 C1048.5,463.3 1044.8,463.5 1040.0,464.0 C1035.2,464.5 1026.5,464.8 1022.0,464.0 C1017.5,463.2 1014.0,462.5 1013.0,459.0 C1012.0,455.5 1013.7,448.0 1016.0,443.0 C1018.3,438.0 1022.7,433.2 1027.0,429.0 C1031.3,424.8 1037.8,419.3 1042.0,418.0 Z" fill="rgb(219,219,219)"/>
<path d="M945.0,372.0 C946.5,369.3 951.2,370.5 953.0,376.0 C954.8,381.5 955.8,396.5 956.0,405.0 C956.2,413.5 955.3,424.8 954.0,427.0 C952.7,429.2 949.7,423.8 948.0,418.0 C946.3,412.2 944.5,399.7 944.0,392.0 C943.5,384.3 943.5,374.7 945.0,372.0 Z" fill="rgb(247,247,247)"/>
<path d="M973.0,370.0 C975.2,365.3 981.8,367.0 984.0,372.0 C986.2,377.0 986.3,391.0 986.0,400.0 C985.7,409.0 984.2,421.3 982.0,426.0 C979.8,430.7 974.8,432.3 973.0,428.0 C971.2,423.7 971.0,409.7 971.0,400.0 C971.0,390.3 970.8,374.7 973.0,370.0 Z" fill="rgb(247,247,247)"/>
<path d="M880.0,428.0 C882.0,425.3 888.8,425.3 893.0,427.0 C897.2,428.7 902.8,434.3 905.0,438.0 C907.2,441.7 908.0,447.0 906.0,449.0 C904.0,451.0 897.2,451.0 893.0,450.0 C888.8,449.0 883.2,446.7 881.0,443.0 C878.8,439.3 878.0,430.7 880.0,428.0 Z" fill="rgb(247,247,247)"/>
<path d="M1044.0,423.0 C1047.5,422.3 1049.5,424.2 1051.0,427.0 C1052.5,429.8 1052.8,435.3 1053.0,440.0 C1053.2,444.7 1053.8,451.7 1052.0,455.0 C1050.2,458.3 1046.7,459.2 1042.0,460.0 C1037.3,460.8 1028.2,460.8 1024.0,460.0 C1019.8,459.2 1017.7,458.0 1017.0,455.0 C1016.3,452.0 1017.8,446.0 1020.0,442.0 C1022.2,438.0 1026.0,434.2 1030.0,431.0 C1034.0,427.8 1040.5,423.7 1044.0,423.0 Z" fill="rgb(247,247,247)"/>
</g>
<circle cx="907" cy="532.4" r="2.8" fill="#28a6c8" filter="url(#tb)"/>
<circle cx="942.6" cy="546" r="3" fill="#28a6c8" filter="url(#tb)"/>
<circle cx="951" cy="505" r="3.2" fill="#28a6c8" filter="url(#tb)"/>
<circle cx="1023.6" cy="525" r="5" fill="#28a6c8" filter="url(#tb)"/>
<circle cx="1005.5" cy="546" r="2.8" fill="#28a6c8" filter="url(#tb)"/>
<circle cx="981" cy="544.5" r="2.5" fill="#28a6c8" filter="url(#tb)"/>
<circle cx="887" cy="500.6" r="3" fill="#28a6c8" filter="url(#tb)"/>
<circle cx="884" cy="512" r="2.5" fill="#28a6c8" filter="url(#tb)"/>
<path d="M959,456 L971,468 M971,456 L959,468" stroke="#5a4a18" stroke-width="1.3" opacity="0.6"/>
<path d="M941,481 L946,480 L948,486 L944,490 L940,487 Z" fill="#f4f4f0" opacity="0.9"/>
</g>
<g clip-path="url(#hclip)">
<rect x="1079.5" y="731.5" width="188.5" height="267" fill="#dedede"/>
<rect x="1079.5" y="731.5" width="188.5" height="1.8" fill="#a9b1b3"/>
<path d="M1141.0,838.0 C1139.1,837.4 1134.1,835.9 1129.8,834.6 C1125.5,833.3 1119.7,831.3 1115.4,830.3 C1111.1,829.3 1106.9,828.6 1103.8,828.8 C1100.7,829.0 1099.0,829.8 1096.6,831.7 C1094.2,833.6 1091.2,837.3 1089.4,840.4 C1087.6,843.5 1086.6,846.4 1086.0,850.5 C1085.4,854.6 1085.4,859.3 1085.6,865.0 C1085.8,870.7 1086.6,879.2 1087.1,884.8 C1087.6,890.4 1088.2,892.9 1088.6,898.4 C1089.0,903.9 1089.3,914.7 1089.4,918.0" fill="none" stroke="#a31414" stroke-width="5.8" stroke-linecap="round" stroke-linejoin="round"/>
<path d="M1096.0,834.0 C1095.3,835.8 1092.5,841.3 1091.7,845.0 C1091.0,848.7 1091.0,852.6 1091.5,856.0 C1092.0,859.4 1092.9,861.8 1094.7,865.1 C1096.5,868.4 1100.0,874.2 1102.3,875.7 C1104.6,877.2 1105.3,873.4 1108.3,874.2 C1111.3,875.0 1115.9,878.4 1120.4,880.3 C1125.0,882.2 1130.5,884.2 1135.6,885.6 C1140.6,887.0 1146.2,887.5 1150.7,888.6 C1155.2,889.7 1159.5,890.5 1162.8,892.4 C1166.1,894.3 1169.1,898.7 1170.4,900.0" fill="none" stroke="#a31414" stroke-width="5.5" stroke-linecap="round" stroke-linejoin="round"/>
<path d="M1172.0,900.0 C1170.7,901.8 1165.8,907.1 1164.3,910.6 C1162.8,914.1 1163.5,917.7 1162.8,921.2 C1162.0,924.7 1159.8,928.0 1159.8,931.8 C1159.8,935.6 1163.0,939.9 1162.8,943.9 C1162.5,947.9 1159.8,952.5 1158.3,956.0 C1156.8,959.5 1154.0,961.8 1153.7,965.1 C1153.5,968.4 1157.5,972.9 1156.8,975.7 C1156.0,978.5 1151.2,979.4 1149.2,981.7 C1147.2,984.0 1145.6,986.8 1144.6,989.3 C1143.6,991.8 1143.3,995.6 1143.1,996.9" fill="none" stroke="#a31414" stroke-width="5.5" stroke-linecap="round" stroke-linejoin="round"/>
<path d="M1143.0,997.0 C1144.2,997.1 1147.7,997.4 1150.0,997.5 C1152.3,997.6 1155.8,997.6 1157.0,997.6" fill="none" stroke="#a31414" stroke-width="3.5" stroke-linecap="round" stroke-linejoin="round"/>
<path d="M1196.0,807.0 C1197.5,807.5 1202.3,808.7 1205.0,810.0 C1207.7,811.3 1210.0,813.5 1212.0,815.0 C1214.0,816.5 1216.2,818.3 1217.0,819.0" fill="none" stroke="#a31414" stroke-width="8" stroke-linecap="round" stroke-linejoin="round"/>
<path d="M1216.0,820.0 C1214.7,821.0 1210.2,823.5 1208.0,826.0 C1205.8,828.5 1204.2,831.8 1203.0,835.0 C1201.8,838.2 1201.3,841.7 1200.5,845.0 C1199.7,848.3 1199.0,851.6 1198.0,855.0 C1197.0,858.4 1196.2,859.6 1194.6,865.1 C1193.0,870.6 1190.9,882.2 1188.6,887.8 C1186.3,893.3 1183.8,896.0 1181.0,898.4 C1178.2,900.8 1173.4,901.6 1171.9,902.2" fill="none" stroke="#a31414" stroke-width="6.2" stroke-linecap="round" stroke-linejoin="round"/>
<path d="M1212.0,826.0 C1211.0,828.3 1207.4,834.7 1206.0,840.0 C1204.6,845.3 1204.3,852.1 1203.7,857.6 C1203.1,863.1 1202.7,866.4 1202.2,872.7 C1201.7,879.0 1201.0,887.8 1200.7,895.4 C1200.5,903.0 1201.5,913.3 1200.7,918.1 C1199.9,922.9 1197.9,922.9 1196.1,924.2 C1194.3,925.5 1192.0,925.5 1190.0,926.0 C1188.0,926.5 1185.0,927.0 1184.0,927.2" fill="none" stroke="#a31414" stroke-width="4.2" stroke-linecap="round" stroke-linejoin="round"/>
<path d="M1206.7,865.1 C1210.0,864.1 1219.3,861.1 1226.4,859.1 C1233.5,857.1 1242.8,854.9 1249.1,853.0 C1255.4,851.1 1261.8,848.8 1264.3,848.0" fill="none" stroke="#a31414" stroke-width="4.2" stroke-linecap="round" stroke-linejoin="round"/>
<path d="M1218.0,825.0 C1219.2,827.2 1223.0,834.2 1225.0,838.0 C1227.0,841.8 1228.6,843.5 1230.0,848.0 C1231.4,852.5 1233.0,862.2 1233.6,865.0" fill="none" stroke="#a31414" stroke-width="2.9" stroke-linecap="round" stroke-linejoin="round"/>
<path d="M1216.3,818.7 C1218.0,819.7 1222.3,823.0 1226.4,824.5 C1230.5,826.0 1236.0,826.0 1240.8,827.4 C1245.6,828.8 1251.3,830.5 1255.2,833.1 C1259.1,835.7 1262.0,839.6 1263.9,843.2 C1265.8,846.8 1266.1,850.3 1266.8,854.8 C1267.5,859.3 1267.8,867.5 1268.0,870.0" fill="none" stroke="#a31414" stroke-width="6.8" stroke-linecap="round" stroke-linejoin="round"/>
<path d="M1262.0,845.0 C1261.6,845.8 1261.9,845.4 1259.7,850.0 C1257.5,854.6 1251.9,865.1 1249.1,872.7 C1246.3,880.3 1245.3,888.6 1243.0,895.4 C1240.7,902.2 1238.3,908.0 1235.5,913.6 C1232.7,919.2 1228.7,923.4 1226.4,928.7 C1224.1,934.0 1221.9,941.4 1221.9,945.4 C1221.9,949.4 1225.7,951.7 1226.4,953.0" fill="none" stroke="#a31414" stroke-width="5.0" stroke-linecap="round" stroke-linejoin="round"/>
<path d="M1241.5,913.6 C1241.9,915.5 1243.0,920.2 1244.0,925.0 C1245.0,929.8 1247.0,939.5 1247.6,942.4" fill="none" stroke="#a31414" stroke-width="4.2" stroke-linecap="round" stroke-linejoin="round"/>
<path d="M1267.3,885.0 C1267.3,890.5 1267.8,910.5 1267.3,918.0 C1266.8,925.5 1265.0,926.5 1264.0,930.0 C1263.0,933.5 1261.7,937.8 1261.2,939.3" fill="none" stroke="#a31414" stroke-width="4.2" stroke-linecap="round" stroke-linejoin="round"/>
<path d="M1211,873 L1215,882 M1216,888 L1218,896 M1221,903 L1222,908 M1181,926 L1187,928" stroke="#b02020" stroke-width="1.5" fill="none"/>
<path d="M1158.6,733.7 C1163.4,733.8 1171.4,735.9 1176.0,737.3 C1180.6,738.7 1183.8,740.3 1186.0,742.3 C1188.2,744.3 1189.0,747.1 1189.0,749.5 C1189.0,751.9 1187.7,754.3 1186.0,756.7 C1184.3,759.1 1180.7,761.6 1178.8,764.0 C1176.9,766.4 1175.2,768.0 1174.5,771.1 C1173.8,774.2 1173.8,779.1 1174.5,782.7 C1175.2,786.3 1177.1,789.9 1178.8,792.8 C1180.5,795.7 1181.7,798.3 1184.6,800.0 C1187.5,801.7 1193.2,801.2 1196.1,802.9 C1199.0,804.6 1201.2,807.5 1201.9,810.0 C1202.6,812.5 1200.5,815.3 1200.0,818.0 C1199.5,820.7 1200.1,823.2 1199.0,826.0 C1197.9,828.8 1195.1,832.2 1193.2,834.6 C1191.3,837.0 1188.9,837.8 1187.5,840.4 C1186.1,843.0 1186.0,848.1 1184.6,850.5 C1183.1,852.9 1181.7,853.8 1178.8,854.8 C1175.9,855.8 1170.7,856.2 1167.3,856.2 C1163.9,856.2 1161.5,856.0 1158.6,854.8 C1155.7,853.6 1152.6,851.4 1150.0,849.0 C1147.4,846.6 1144.5,844.2 1142.8,840.4 C1141.1,836.6 1140.9,830.8 1139.9,826.0 C1138.9,821.2 1138.2,816.3 1137.0,811.5 C1135.8,806.7 1134.4,801.9 1132.7,797.1 C1131.0,792.3 1128.1,787.5 1126.9,782.7 C1125.7,777.9 1125.2,773.1 1125.5,768.3 C1125.8,763.5 1126.7,757.9 1128.4,753.8 C1130.1,749.7 1132.5,746.6 1135.6,743.7 C1138.7,740.8 1143.3,738.2 1147.1,736.5 C1150.9,734.8 1153.8,733.6 1158.6,733.7 Z" fill="url(#aog)" stroke="#8e1010" stroke-width="1"/>
<path d="M1140.0,745.0 C1143.0,741.5 1152.0,737.1 1158.0,736.0 C1164.0,734.9 1171.3,737.0 1176.0,738.5 C1180.7,740.0 1184.5,742.4 1186.0,745.0 C1187.5,747.6 1187.3,752.2 1185.0,754.0 C1182.7,755.8 1177.0,755.3 1172.0,756.0 C1167.0,756.7 1160.3,757.8 1155.0,758.0 C1149.7,758.2 1142.5,759.2 1140.0,757.0 C1137.5,754.8 1137.0,748.5 1140.0,745.0 Z" fill="#861414" opacity="0.5"/>
<circle cx="1217" cy="819" r="4" fill="#9a1010"/>
</g>
</svg>
</body></html>
